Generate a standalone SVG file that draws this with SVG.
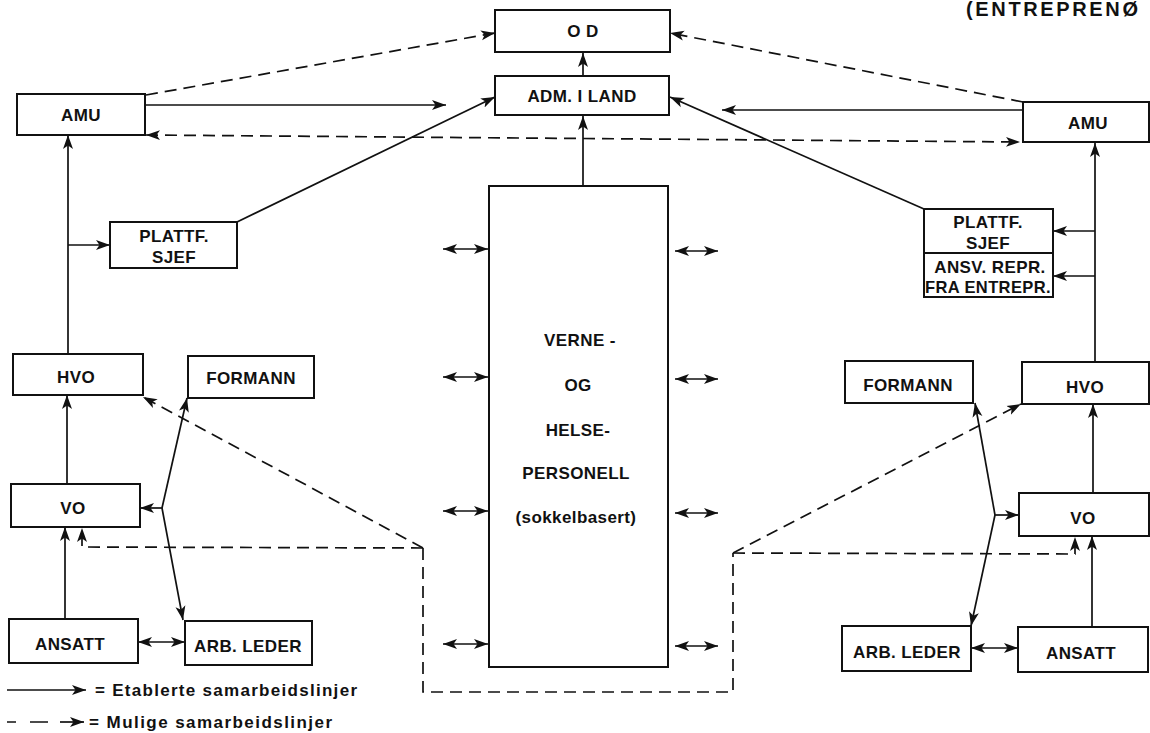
<svg xmlns="http://www.w3.org/2000/svg" width="1150" height="733" viewBox="0 0 1150 733">
<style>
.box{fill:#fff;stroke:#111;stroke-width:2}
.t{font-family:"Liberation Sans",Arial,sans-serif;font-weight:bold;font-size:17px;fill:#111;text-anchor:middle;letter-spacing:0.4px}
.lg{font-family:"Liberation Sans",Arial,sans-serif;font-weight:bold;font-size:17px;fill:#111}
.s{fill:none;stroke:#111;stroke-width:1.7}
.d{fill:none;stroke:#111;stroke-width:1.7;stroke-dasharray:12 7}
.a{marker-end:url(#ah)}
.aa{marker-end:url(#ah);marker-start:url(#ah)}
</style>
<defs>
<marker id="ah" markerUnits="userSpaceOnUse" markerWidth="15" markerHeight="11" refX="14" refY="5.5" orient="auto-start-reverse">
<path d="M0,0.5 L14,5.5 L0,10.5 L3.5,5.5 z" fill="#111"/>
</marker>
</defs>
<rect width="1150" height="733" fill="#fff"/>
<text x="966" y="16" font-family="Liberation Sans,Arial,sans-serif" font-weight="bold" font-size="20" fill="#111" textLength="172" lengthAdjust="spacing">(ENTREPRENØ</text>

<g id="connectors">
<path class="s a" d="M583,76 L583,53"/>
<path class="s a" d="M583,186 L583,116"/>
<path class="s a" d="M145,105 L446,105"/>
<path class="s a" d="M1023,110 L722,110"/>
<path class="s a" d="M237,222 L495,97"/>
<path class="s a" d="M924,209 L670,97"/>
<path class="s a" d="M68,354 L68,135"/>
<path class="s a" d="M68,245 L110,245"/>
<path class="s a" d="M1095,362 L1095,143"/>
<path class="s a" d="M1095,231 L1053,231"/>
<path class="s a" d="M1095,276 L1053,276"/>
<path class="s a" d="M67,484 L67,395"/>
<path class="s a" d="M65,619 L65,527"/>
<path class="s a" d="M162,508 L140,508"/>
<path class="s a" d="M162,508 L187,398"/>
<path class="s a" d="M162,508 L183,620"/>
<path class="s aa" d="M138,642 L185,642"/>
<path class="s a" d="M1093,493 L1093,404"/>
<path class="s a" d="M1092,627 L1092,536"/>
<path class="s a" d="M995,515 L1019,515"/>
<path class="s a" d="M995,515 L975,403"/>
<path class="s a" d="M995,515 L971,626"/>
<path class="s aa" d="M971,648 L1018,648"/>
<path class="s aa" d="M443,249 L488,249"/>
<path class="s aa" d="M443,377 L488,377"/>
<path class="s aa" d="M443,511 L488,511"/>
<path class="s aa" d="M443,644 L488,644"/>
<path class="s aa" d="M675,251 L718,251"/>
<path class="s aa" d="M675,379 L718,379"/>
<path class="s aa" d="M675,513 L718,513"/>
<path class="s aa" d="M675,646 L718,646"/>
<path class="d a" d="M146,95 L495,33"/>
<path class="d a" d="M1023,102 L670,33"/>
<path class="d aa" d="M146,135 L1020,142"/>
<path class="d a" d="M423,548 L143,397"/>
<path class="d a" d="M423,548 L82,547 L82,528"/>
<path class="d" d="M423,548 L423,692 L733,692 L733,553"/>
<path class="d a" d="M733,553 L1021,404"/>
<path class="d a" d="M733,553 L1075,554 L1075,537"/>
</g>

<g id="OD"><rect class="box" x="495" y="10" width="175" height="42"/><text class="t" x="583" y="37" letter-spacing="3">O D</text></g>
<g id="ADM"><rect class="box" x="495" y="76" width="174" height="39"/><text class="t" x="582" y="102">ADM. I LAND</text></g>
<g id="AMU-L"><rect class="box" x="17" y="94" width="128" height="41"/><text class="t" x="81" y="121" letter-spacing="1">AMU</text></g>
<g id="AMU-R"><rect class="box" x="1023" y="102" width="126" height="40"/><text class="t" x="1088" y="129" letter-spacing="1.5">AMU</text></g>
<g id="PLATTF-L"><rect class="box" x="110" y="222" width="127" height="46"/><text class="t" x="174" y="242">PLATTF.</text><text class="t" x="174" y="263">SJEF</text></g>
<g id="PLATTF-R"><rect class="box" x="924" y="209" width="129" height="88"/><line x1="924" y1="253" x2="1053" y2="253" stroke="#111" stroke-width="2"/><text class="t" x="988" y="228">PLATTF.</text><text class="t" x="988" y="249">SJEF</text><text class="t" x="990" y="273">ANSV. REPR.</text><text class="t" x="988" y="293" letter-spacing="0" textLength="126" lengthAdjust="spacingAndGlyphs">FRA ENTREPR.</text></g>
<g id="VERNE"><rect class="box" x="489" y="186" width="179" height="481"/>
<text class="t" x="580" y="346">VERNE -</text>
<text class="t" x="578" y="391">OG</text>
<text class="t" x="578" y="436">HELSE-</text>
<text class="t" x="576" y="479">PERSONELL</text>
<text class="t" x="576" y="523" letter-spacing="1">(sokkelbasert)</text></g>
<g id="HVO-L"><rect class="box" x="13" y="354" width="130" height="41"/><text class="t" x="76" y="383">HVO</text></g>
<g id="FORMANN-L"><rect class="box" x="188" y="356" width="126" height="42"/><text class="t" x="251" y="384">FORMANN</text></g>
<g id="VO-L"><rect class="box" x="11" y="484" width="129" height="43"/><text class="t" x="73" y="514">VO</text></g>
<g id="ANSATT-L"><rect class="box" x="9" y="619" width="129" height="44"/><text class="t" x="70" y="650" letter-spacing="1.2">ANSATT</text></g>
<g id="ARBLEDER-L"><rect class="box" x="185" y="621" width="127" height="44"/><text class="t" x="248" y="652">ARB. LEDER</text></g>
<g id="HVO-R"><rect class="box" x="1022" y="362" width="127" height="42"/><text class="t" x="1085" y="393">HVO</text></g>
<g id="FORMANN-R"><rect class="box" x="845" y="361" width="128" height="42"/><text class="t" x="908" y="391">FORMANN</text></g>
<g id="VO-R"><rect class="box" x="1019" y="493" width="130" height="43"/><text class="t" x="1083" y="524">VO</text></g>
<g id="ARBLEDER-R"><rect class="box" x="842" y="626" width="129" height="45"/><text class="t" x="907" y="658">ARB. LEDER</text></g>
<g id="ANSATT-R"><rect class="box" x="1018" y="627" width="130" height="45"/><text class="t" x="1081" y="659" letter-spacing="1.2">ANSATT</text></g>

<g id="legend">
<path class="s a" d="M7,690 L86,690"/>
<text class="lg" x="95" y="696" textLength="262" lengthAdjust="spacing">= Etablerte  samarbeidslinjer</text>
<path class="s" d="M7,722 L16,722 M30,722 L48,722"/>
<path class="s a" d="M60,722 L84,722"/>
<text class="lg" x="89" y="728" textLength="243" lengthAdjust="spacing">= Mulige samarbeidslinjer</text>
</g>
</svg>
